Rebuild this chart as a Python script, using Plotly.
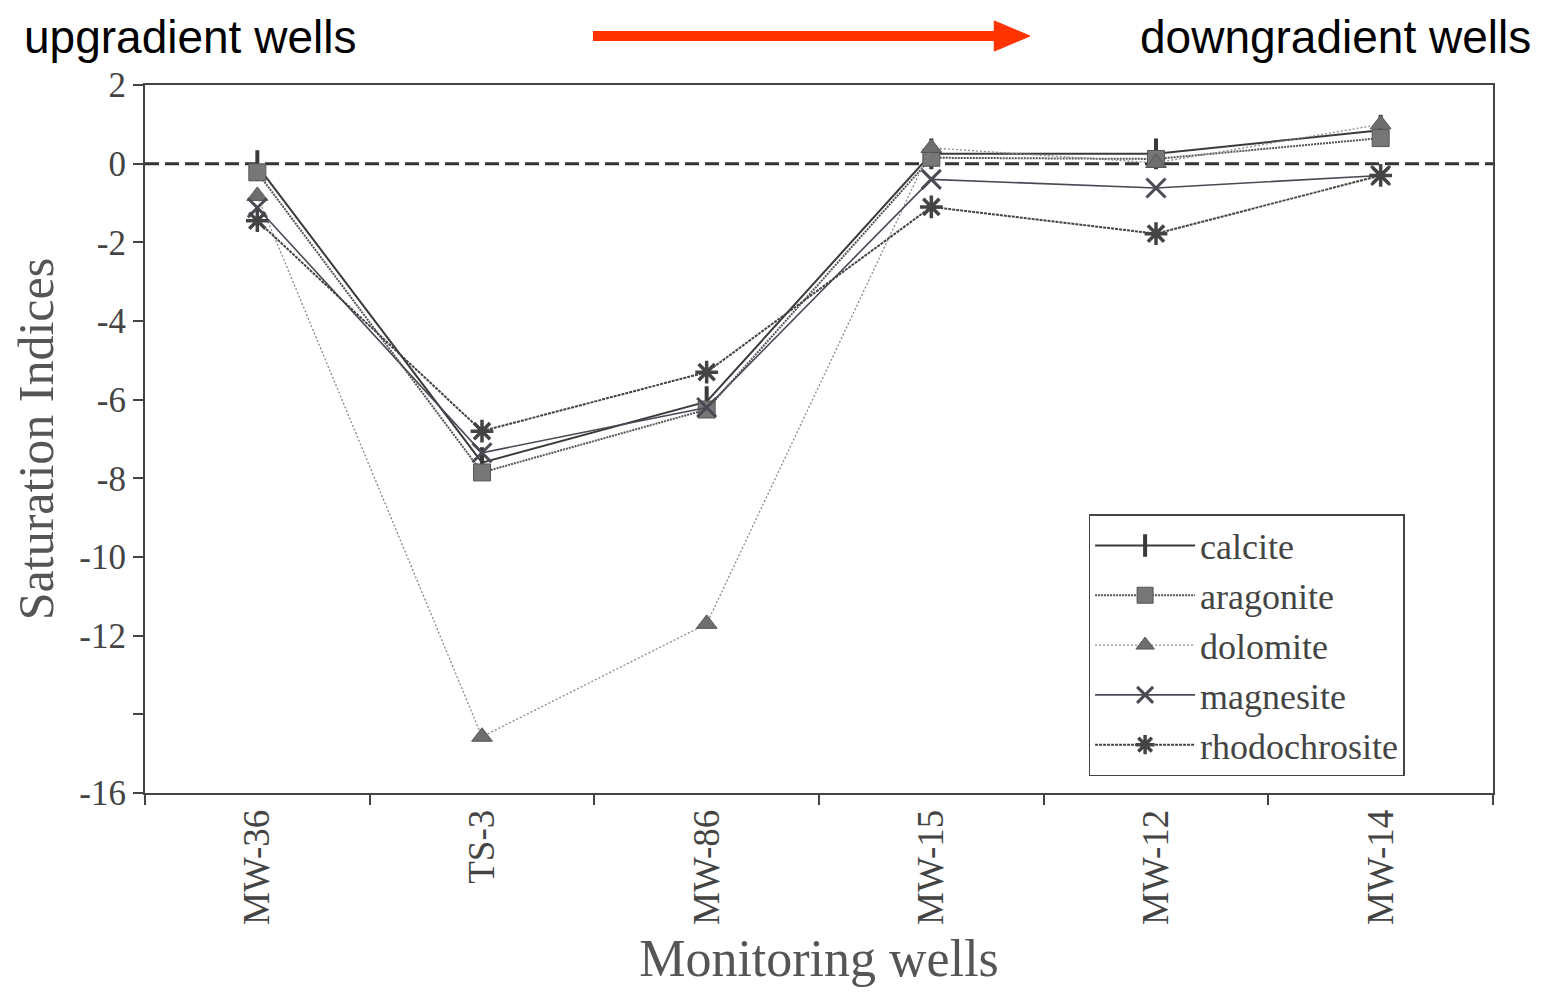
import plotly.graph_objects as go

wells = ["MW-36", "TS-3", "MW-86", "MW-15", "MW-12", "MW-14"]
calcite = [-0.05, -7.6, -6.05, 0.25, 0.25, 0.85]
aragonite = [-0.22, -7.85, -6.25, 0.15, 0.12, 0.65]
dolomite = [-0.82, -14.57, -11.7, 0.4, 0.02, 1.0]
magnesite = [-1.12, -7.35, -6.2, -0.4, -0.62, -0.3]
rhodochrosite = [-1.45, -6.8, -5.3, -1.1, -1.78, -0.3]

y_ticks = [2, 0, -2, -4, -6, -8, -10, -12, -14, -16]
y_ticktext = ["2", "0", "-2", "-4", "-6", "-8", "-10", "-12", "", "-16"]

serif = "Liberation Serif, Times New Roman, serif"
sans = "Liberation Sans, Arial, sans-serif"

fig = go.Figure()

fig.add_trace(go.Scatter(
    x=wells, y=calcite, name="calcite", mode="lines+markers",
    line=dict(color="#3a3a3a", width=2),
    marker=dict(symbol="line-ns-open", size=22, line=dict(color="#3a3a3a", width=4)),
))
fig.add_trace(go.Scatter(
    x=wells, y=aragonite, name="aragonite", mode="lines+markers",
    line=dict(color="#555555", width=2, dash="2px,1px"),
    marker=dict(symbol="square", size=17, color="#777777", line=dict(color="#555555", width=1)),
))
fig.add_trace(go.Scatter(
    x=wells, y=dolomite, name="dolomite", mode="lines+markers",
    line=dict(color="#8a8a8a", width=1.3, dash="2px,2px"),
    marker=dict(symbol="triangle-up", size=18, color="#6e6e6e", line=dict(color="#555555", width=1)),
))
fig.add_trace(go.Scatter(
    x=wells, y=magnesite, name="magnesite", mode="lines+markers",
    line=dict(color="#4a4a55", width=1.6),
    marker=dict(symbol="x-thin-open", size=19, line=dict(color="#aaaaaa", width=3)),
))
fig.add_trace(go.Scatter(
    x=wells, y=rhodochrosite, name="rhodochrosite", mode="lines+markers",
    line=dict(color="#444444", width=2, dash="3px,1px"),
    marker=dict(symbol="asterisk-open", size=19, line=dict(color="#444444", width=3.5)),
))

fig.add_hline(y=0, line=dict(color="#333333", width=3, dash="14px,6px"), layer="below")

# red arrow (decoration, paper coordinates)
fig.add_shape(type="line", xref="paper", yref="paper",
              x0=0.3323, x1=0.636, y0=1.0692, y1=1.0692,
              line=dict(color="#ff3300", width=10))
fig.add_shape(type="path", xref="paper", yref="paper",
              path="M 0.630,1.0905 L 0.6565,1.0692 L 0.630,1.0479 Z",
              fillcolor="#ff3300", line=dict(color="#ff3300", width=1))

fig.add_annotation(text="upgradient wells", xref="paper", yref="paper",
                   x=-0.0912, y=1.0685, xanchor="left", yanchor="middle",
                   showarrow=False, font=dict(family=sans, size=46, color="#000000"))
fig.add_annotation(text="downgradient wells", xref="paper", yref="paper",
                   x=1.0295, y=1.0685, xanchor="right", yanchor="middle",
                   showarrow=False, font=dict(family=sans, size=46, color="#000000"))

# page body has an 8px margin: figure spans 8..1533 x 8..992
fig.update_layout(
    width=1525, height=984,
    margin=dict(l=137, r=40, t=77, b=199),
    paper_bgcolor="white", plot_bgcolor="white",
    showlegend=True,
    legend=dict(
        x=0.70, y=0.394, xanchor="left", yanchor="top",
        font=dict(family=serif, size=36, color="#444444"),
        bgcolor="white", bordercolor="#444444", borderwidth=1.5,
        tracegroupgap=0, itemwidth=100,
    ),
    xaxis=dict(
        type="category", range=[-0.5, 5.5],
        tickson="boundaries", ticks="outside", ticklen=10, tickwidth=2, tickcolor="#444444",
        tickangle=-90,
        tickfont=dict(family=serif, size=37, color="#444444"),
        showline=True, linecolor="#444444", linewidth=2, mirror=True,
        showgrid=False, zeroline=False,
        title=dict(text="Monitoring wells", font=dict(family=serif, size=52, color="#555555"), standoff=16),
    ),
    yaxis=dict(
        range=[-16, 2], tickvals=y_ticks, ticktext=y_ticktext,
        ticks="outside", ticklen=10, tickwidth=2, tickcolor="#444444",
        tickfont=dict(family=serif, size=35, color="#444444"),
        showline=True, linecolor="#444444", linewidth=2, mirror=True,
        showgrid=False, zeroline=False,
        title=dict(text="Saturation Indices", font=dict(family=serif, size=50, color="#555555"), standoff=18),
    ),
)

fig.write_html("out.html")
